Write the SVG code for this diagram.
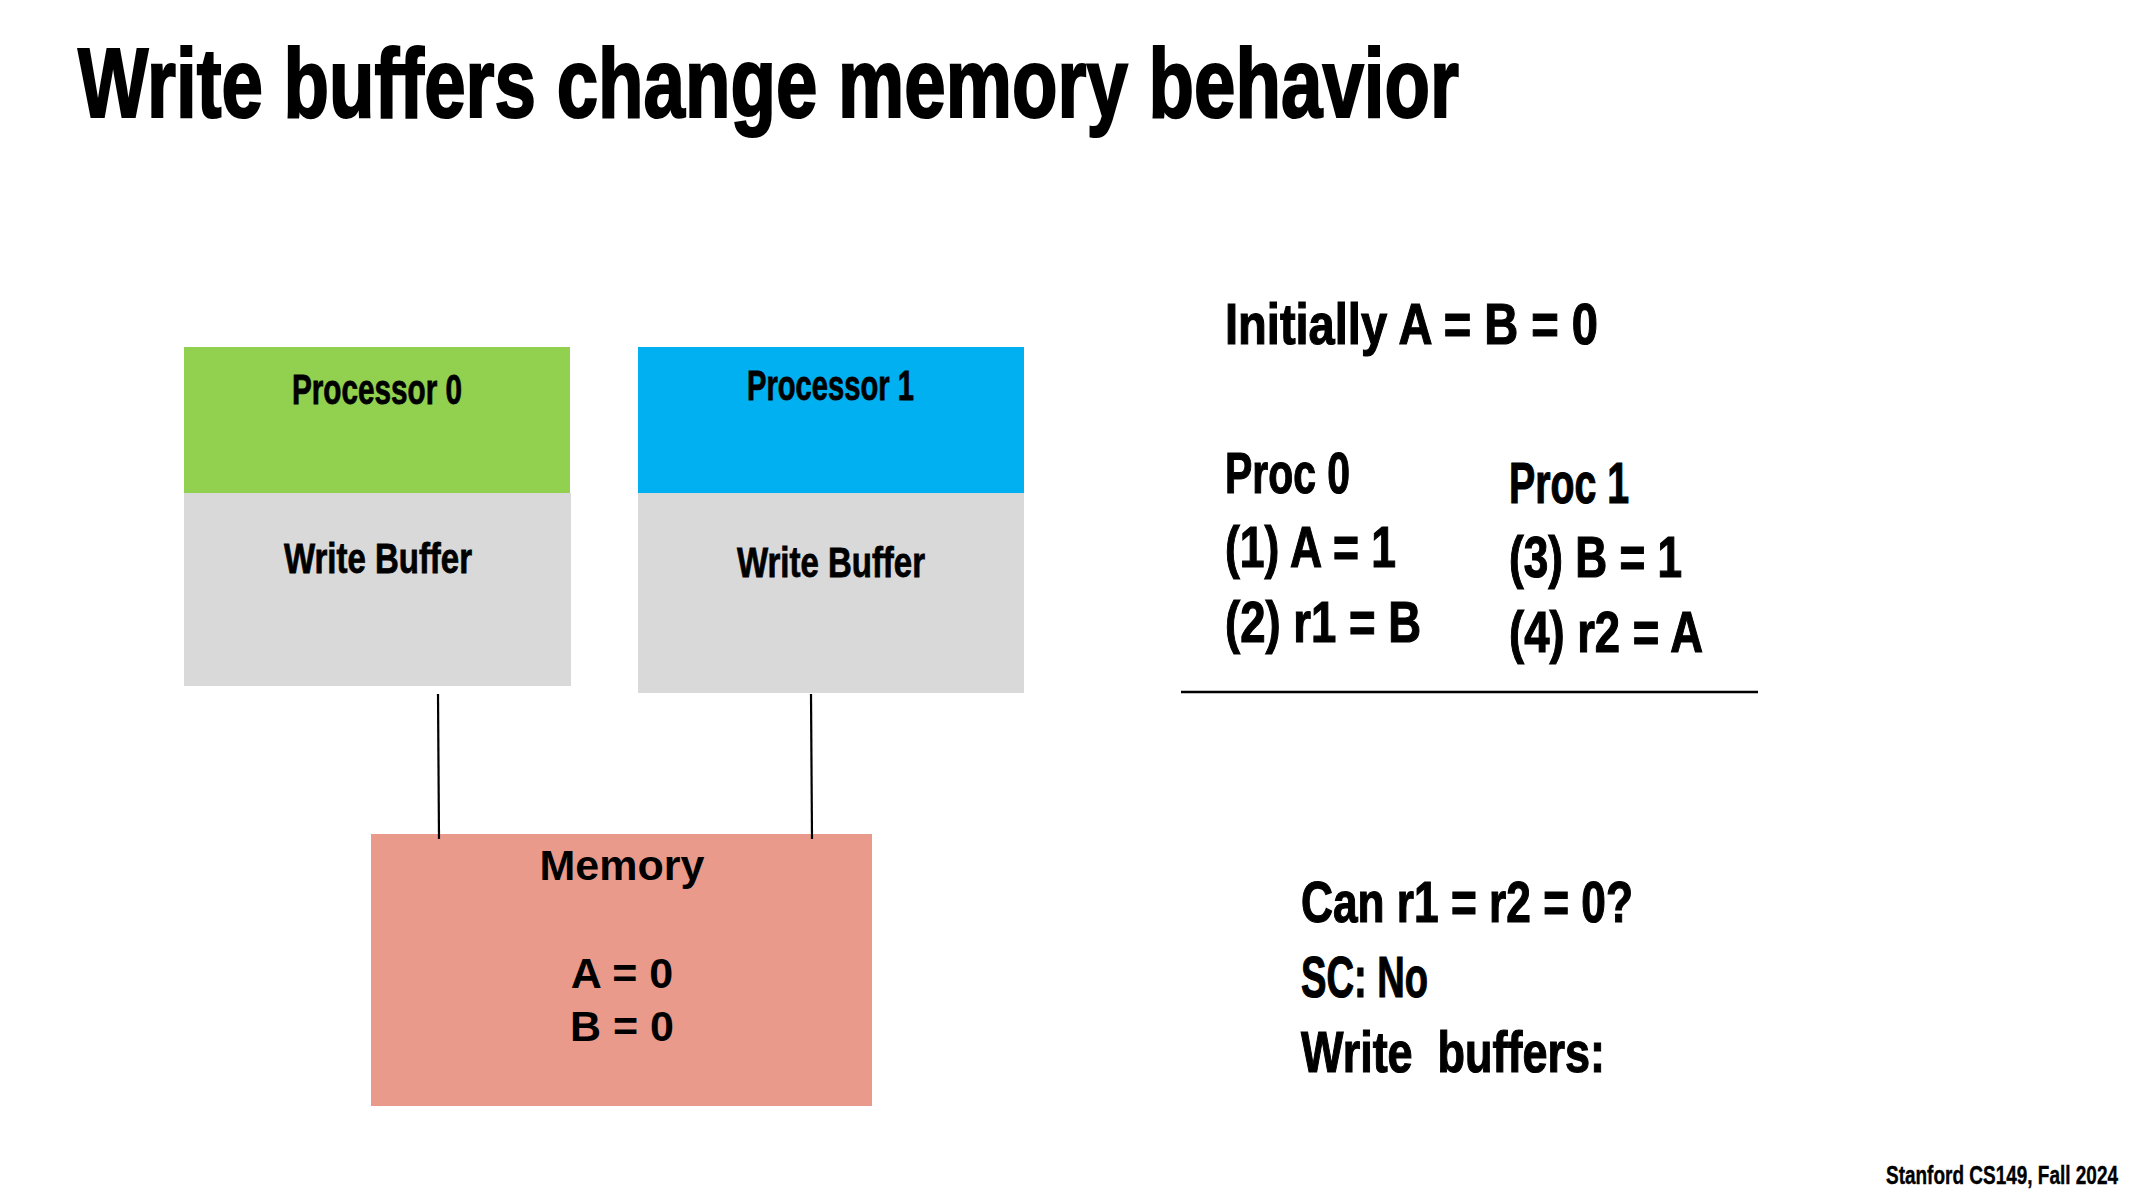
<svg xmlns="http://www.w3.org/2000/svg" width="2133" height="1200" viewBox="0 0 2133 1200">
<style>
.c{font-family:"Liberation Sans Narrow","Liberation Sans",Arial,sans-serif;font-weight:bold;fill:#000;stroke:#000}
.a{font-family:"Liberation Sans",Arial,sans-serif;font-weight:bold;fill:#000;font-size:43px;text-anchor:middle}
.lbl{font-size:42px;stroke-width:0.8}
.big{font-size:58px;stroke-width:1.2}
.conn{stroke:#000;stroke-width:2.2;fill:none}
</style>
<rect width="2133" height="1200" fill="#fff"/>
<text class="c" x="78" y="117" font-size="98" stroke-width="2.2" textLength="1381" lengthAdjust="spacingAndGlyphs">Write buffers change memory behavior</text>

<g id="proc0">
<rect x="184" y="347" width="386" height="146" fill="#92D050"/>
<text class="c lbl" x="292" y="404" textLength="170" lengthAdjust="spacingAndGlyphs">Processor 0</text>
</g>
<g id="wb0">
<rect x="184" y="493" width="387" height="193" fill="#D9D9D9"/>
<text class="c lbl" x="284" y="573" textLength="188" lengthAdjust="spacingAndGlyphs">Write Buffer</text>
</g>
<g id="proc1">
<rect x="638" y="347" width="386" height="146" fill="#00B0F0"/>
<text class="c lbl" x="747" y="400" textLength="167" lengthAdjust="spacingAndGlyphs">Processor 1</text>
</g>
<g id="wb1">
<rect x="638" y="493" width="386" height="200" fill="#D9D9D9"/>
<text class="c lbl" x="737" y="577" textLength="188" lengthAdjust="spacingAndGlyphs">Write Buffer</text>
</g>
<g id="memory">
<rect x="371" y="834" width="501" height="272" fill="#E99A8B"/>
<text class="a" x="622" y="880">Memory</text>
<text class="a" x="622" y="988">A = 0</text>
<text class="a" x="622" y="1041">B = 0</text>
</g>
<g id="connectors">
<line class="conn" x1="438" y1="694" x2="439" y2="839"/>
<line class="conn" x1="811" y1="694" x2="812" y2="839"/>
</g>

<g id="program">
<text class="c big" x="1225" y="344" textLength="373" lengthAdjust="spacingAndGlyphs">Initially A = B = 0</text>
<text class="c big" x="1225" y="493" textLength="125" lengthAdjust="spacingAndGlyphs">Proc 0</text>
<text class="c big" x="1225" y="567" textLength="171" lengthAdjust="spacingAndGlyphs">(1) A = 1</text>
<text class="c big" x="1225" y="642" textLength="196" lengthAdjust="spacingAndGlyphs">(2) r1 = B</text>
<text class="c big" x="1509" y="503" textLength="120" lengthAdjust="spacingAndGlyphs">Proc 1</text>
<text class="c big" x="1509" y="577" textLength="173" lengthAdjust="spacingAndGlyphs">(3) B = 1</text>
<text class="c big" x="1509" y="652" textLength="194" lengthAdjust="spacingAndGlyphs">(4) r2 = A</text>
<line x1="1181" y1="692" x2="1758" y2="692" stroke="#000" stroke-width="2.5"/>
</g>
<g id="question">
<text class="c big" x="1301" y="922" textLength="332" lengthAdjust="spacingAndGlyphs">Can r1 = r2 = 0?</text>
<text class="c big" x="1301" y="997" textLength="127" lengthAdjust="spacingAndGlyphs">SC: No</text>
<text class="c big" x="1301" y="1072" textLength="304" lengthAdjust="spacingAndGlyphs" xml:space="preserve">Write  buffers:</text>
</g>
<text class="c" x="1886" y="1184" font-size="26" stroke-width="0.4" textLength="232" lengthAdjust="spacingAndGlyphs">Stanford CS149, Fall 2024</text>
</svg>
